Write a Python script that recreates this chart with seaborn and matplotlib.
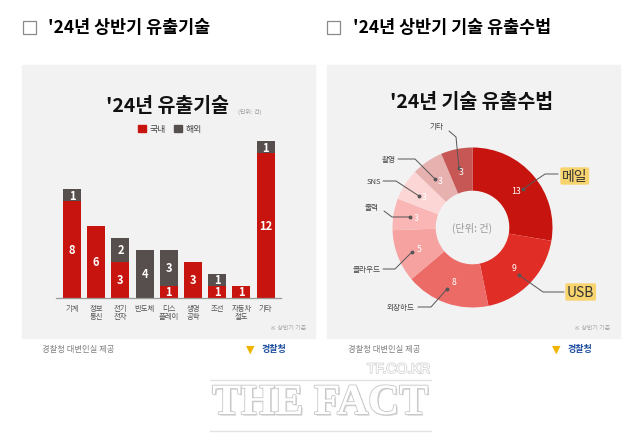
import numpy as np
import pandas as pd
import seaborn as sns
import matplotlib.pyplot as plt
from matplotlib.patches import Rectangle, Patch
import matplotlib.patheffects as pe

# data (unit: cases, first half of 2024)
categories = ['기계', '정보\n통신', '전기\n전자', '반도체', '디스\n플레이',
              '생명\n공학', '조선', '자동차\n철도', '기타']
domestic = [8, 6, 3, 0, 1, 3, 1, 1, 12]
overseas = [1, 0, 2, 4, 3, 0, 1, 0, 1]

methods = ['메일', 'USB', '외장하드', '클라우드', '출력', 'SNS', '촬영', '기타']
method_counts = [13, 9, 8, 5, 3, 3, 3, 3]

RED = '#C8140F'
DARK = '#574F4E'
PANEL = '#F2F2F2'
donut_colors = ['#C8140F', '#E02E27', '#EC6B67', '#F6A2A0',
                '#F9B6B4', '#FCD6D5', '#E6B1AF', '#C65755']

W, H = 640, 439
sns.set_theme(style='white')
plt.rcParams['font.family'] = ['Noto Sans CJK KR', 'DejaVu Sans']

fig = plt.figure(figsize=(6.4, 4.39), dpi=100)
fig.patch.set_facecolor('white')


def px(x, y, w, h):
    """pixel box (top-left origin) -> figure fraction rect"""
    return [x / W, 1 - (y + h) / H, w / W, h / H]


def fx(x):
    return x / W


def fy(y):
    return 1 - y / H


# gray panels (behind the axes)
for x0 in (22, 327):
    fig.patches.append(Rectangle((fx(x0), fy(339)), 293 / W, 273 / H,
                                 transform=fig.transFigure, color=PANEL, zorder=-5))

# headers with check boxes
for bx, tx, txt in [(23, 48, "'24년 상반기 유출기술"), (327, 353, "'24년 상반기 기술 유출수법")]:
    fig.patches.append(Rectangle((fx(bx), fy(35)), 13 / W, 13 / H, transform=fig.transFigure,
                                 fc='white', ec='#8a8a8a', lw=0.9, zorder=1))
    fig.text(fx(tx), fy(28), txt, fontsize=12.5, weight='bold', color='black',
             ha='left', va='center')

# ---------------- bar chart ----------------
df = pd.DataFrame({'category': categories, 'domestic': domestic, 'overseas': overseas})
df['total'] = df['domestic'] + df['overseas']

ax = fig.add_axes(px(56.3, 142, 225, 157))
ax.patch.set_alpha(0)
sns.barplot(data=df, x='category', y='total', color=DARK, saturation=1,
            width=0.74, ax=ax, linewidth=0)
sns.barplot(data=df, x='category', y='domestic', color=RED, saturation=1,
            width=0.74, ax=ax, linewidth=0)
ax.set_xlim(-0.65, 8.65)
ax.set_ylim(0, 13)
ax.set_xlabel('')
ax.set_ylabel('')
ax.set_yticks([])
for s in ['top', 'right', 'left']:
    ax.spines[s].set_visible(False)
ax.spines['bottom'].set_color('#9a9a9a')
ax.spines['bottom'].set_linewidth(0.9)
ax.tick_params(axis='x', length=0, pad=4, labelsize=5.3, labelcolor='#555555')
for lab in ax.get_xticklabels():
    lab.set_linespacing(1.1)
    lab.set_va('top')

for i, (d, o) in enumerate(zip(domestic, overseas)):
    if d > 0:
        ax.text(i, d / 2, str(d), ha='center', va='center', color='white',
                fontsize=8, weight='bold')
    if o > 0:
        ax.text(i, d + o / 2, str(o), ha='center', va='center', color='white',
                fontsize=8, weight='bold')

fig.text(fx(167), fy(106), "'24년 유출기술", fontsize=14, weight='heavy',
         ha='center', va='center', color='#111111')
fig.text(fx(238), fy(112), '(단위: 건)', fontsize=4.3, color='#9a9a9a',
         ha='left', va='center')
fig.legend(handles=[Patch(color=RED, label='국내'), Patch(color=DARK, label='해외')],
           loc='center', bbox_to_anchor=(fx(170), fy(130)), ncol=2, frameon=False,
           fontsize=6.4, handlelength=0.9, handleheight=0.9, handletextpad=0.4,
           columnspacing=0.9, labelcolor='#444444')
fig.text(fx(306), fy(328), '※ 상반기 기준', fontsize=4.3, color='#aaaaaa',
         ha='right', va='center')

# ---------------- donut chart ----------------
CX, CY, R = 472.5, 228.5, 80.0
ax2 = fig.add_axes(px(CX - 128, CY - 128, 256, 256))
ax2.pie(method_counts, colors=donut_colors, startangle=90, counterclock=False,
        radius=1, wedgeprops=dict(width=0.54, linewidth=0))
ax2.set_xlim(-1.6, 1.6)
ax2.set_ylim(-1.6, 1.6)
ax2.set_aspect('equal')
ax2.axis('off')


def dc(x, y):
    """pixel -> donut data coords"""
    return (x - CX) / R, (CY - y) / R


total = sum(method_counts)
cum = np.cumsum([0] + method_counts[:-1])
for v, c in zip(method_counts, cum):
    ang = np.deg2rad(90 - (c + v / 2) / total * 360)
    ax2.text(0.72 * np.cos(ang), 0.72 * np.sin(ang), str(v), ha='center',
             va='center', color='white', fontsize=6.3)

ax2.text(0, 0, '(단위: 건)', ha='center', va='center', fontsize=7.3, color='#9a9a9a')

leaders = [
    [(523, 190), (545, 175), (558, 175)],
    [(519, 276), (543, 293), (564, 293)],
    [(447, 290), (431, 308), (418, 308)],
    [(412, 253), (395, 270), (383, 270)],
    [(410, 218), (392, 218), (384, 212)],
    [(419, 197), (396, 182), (383, 182)],
    [(435, 180), (415, 160), (398, 160)],
    [(459, 169), (456, 138), (449, 132)],
]
label_pos = [
    (562, 177, 'left'), (567, 293, 'left'), (415, 308, 'right'), (381, 270, 'right'),
    (372, 208, 'center'), (381, 182, 'right'), (396, 160, 'right'), (437, 127, 'center'),
]
for name, pts, (lx, ly, ha) in zip(methods, leaders, label_pos):
    xs, ys = zip(*[dc(*p) for p in pts])
    ax2.plot(xs, ys, color='#555555', lw=0.7, clip_on=False)
    ax2.plot(xs[0], ys[0], 'o', color='#555555', ms=1.8, clip_on=False)
    tx, ty = dc(lx, ly)
    if name in ('메일', 'USB'):
        ax2.text(tx, ty, name, ha=ha, va='center', fontsize=10, color='#333333',
                 bbox=dict(boxstyle='round,pad=0.12', fc='#F7D46E', ec='none'),
                 clip_on=False)
    else:
        ax2.text(tx, ty, name, ha=ha, va='center', fontsize=5.5, color='#444444',
                 clip_on=False)

fig.text(fx(472), fy(102), "'24년 기술 유출수법", fontsize=14, weight='heavy',
         ha='center', va='center', color='#111111')
fig.text(fx(610), fy(328), '※ 상반기 기준', fontsize=4.3, color='#aaaaaa',
         ha='right', va='center')

# ---------------- footers ----------------
for tx, lx in [(42, 246), (348, 552)]:
    fig.text(fx(tx), fy(350), '경찰청 대변인실 제공', fontsize=6, color='#808080',
             ha='left', va='center')
    fig.text(fx(lx), fy(350), '▼', fontsize=8, color='#F0B400', ha='left',
             va='center', family=['DejaVu Sans'])
    fig.text(fx(lx + 16), fy(350), '경찰청', fontsize=6.5, weight='bold',
             color='#1F4FA0', ha='left', va='center')

# watermark
shadow = [pe.withStroke(linewidth=1.6, foreground='#cccccc'),
          pe.SimplePatchShadow(offset=(1.2, -1.2), shadow_rgbFace='#c8c8c8', alpha=0.7), pe.Normal()]
fig.text(fx(320), fy(405), 'THE FACT', fontsize=31, weight='bold', color='white',
         family=['Liberation Serif'], ha='center', va='center', path_effects=shadow)
fig.text(fx(430), fy(370), 'TF.CO.KR', fontsize=10, color='white', ha='right',
         va='center', family=['Liberation Sans'],
         path_effects=[pe.withStroke(linewidth=1.2, foreground='#d5d5d5')])
for yy in (381, 432):
    fig.add_artist(plt.Line2D([fx(210), fx(431)], [fy(yy), fy(yy)], color='#e2e2e2',
                              lw=1, transform=fig.transFigure))

fig.savefig('out.png', dpi=100, facecolor='white')
